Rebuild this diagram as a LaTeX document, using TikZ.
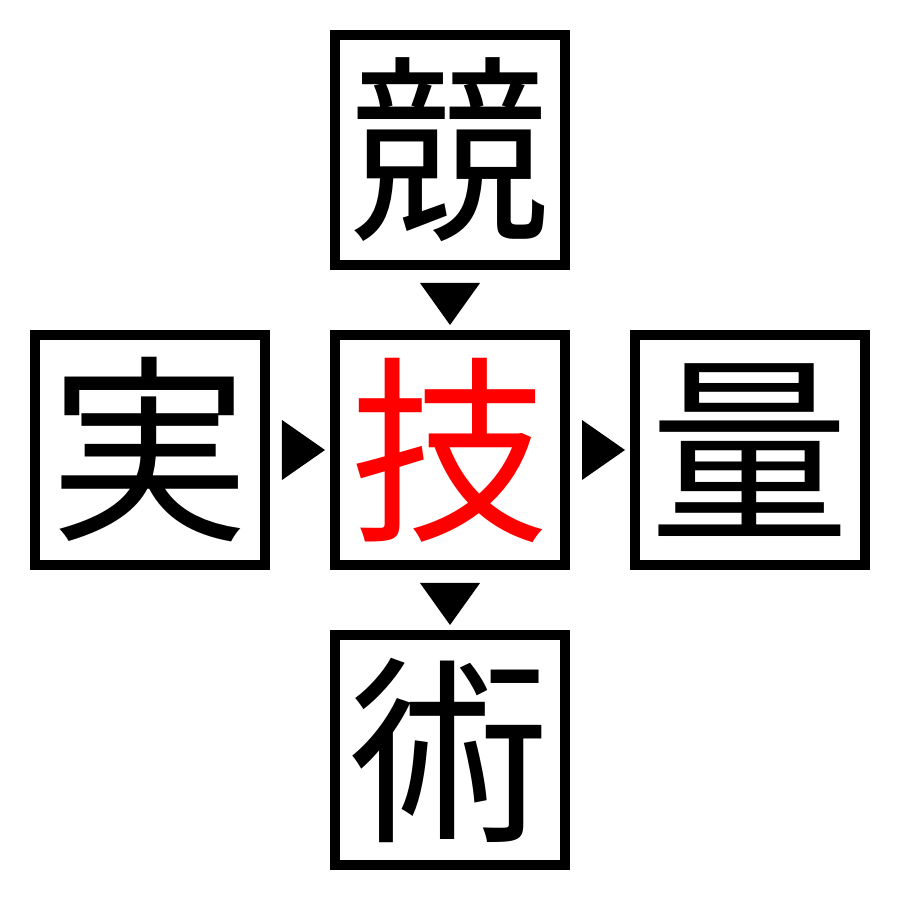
\documentclass[tikz,border=0pt]{standalone}
\usepackage{fontspec}
\newfontfamily\cjk{Noto Sans CJK JP}
\usepackage{tikz}
\usetikzlibrary{positioning}
\tikzset{
  kbox/.style={draw, line width=0.1cm, minimum size=2.3cm, inner sep=0pt,
    font=\cjk\fontsize{57}{57}\selectfont},
  key/.style={kbox, text=red}
}

\begin{document}
\begin{tikzpicture}
  \useasboundingbox (0,0) rectangle (9,9);
  % Boxes
  \node[key] (mid) at (4.5,4.5) {技};
  \node[kbox, above=0.6cm of mid] (top) {競};
  \node[kbox, below=0.6cm of mid] (bot) {術};
  \node[kbox, left=0.6cm of mid] (lft) {実};
  \node[kbox, right=0.6cm of mid] (rgt) {量};
  % Triangles between the boxes
  \fill[shift={(lft.east)}] (0.12,0.3) -- (0.12,-0.3) -- (0.55,0) -- cycle;
  \fill[shift={(mid.east)}] (0.12,0.3) -- (0.12,-0.3) -- (0.55,0) -- cycle;
  \fill[shift={(top.south)}] (-0.3,-0.13) -- (0.3,-0.13) -- (0,-0.55) -- cycle;
  \fill[shift={(mid.south)}] (-0.3,-0.13) -- (0.3,-0.13) -- (0,-0.55) -- cycle;
\end{tikzpicture}
\end{document}
